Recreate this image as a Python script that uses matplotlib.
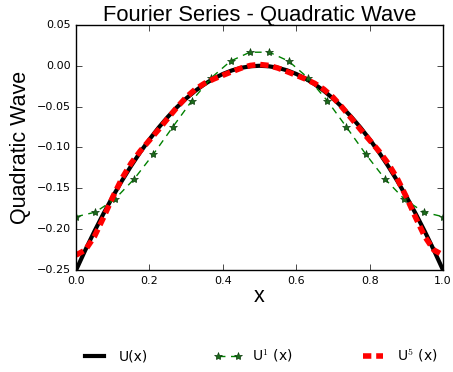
import matplotlib
matplotlib.use("Agg")
import matplotlib.pyplot as plt

plt.style.use("classic")

# dense grid values
x_dense = [0.000, 0.025, 0.050, 0.075, 0.100, 0.125, 0.150, 0.175, 0.200, 0.225,
           0.250, 0.275, 0.300, 0.325, 0.350, 0.375, 0.400, 0.425, 0.450, 0.475,
           0.500, 0.525, 0.550, 0.575, 0.600, 0.625, 0.650, 0.675, 0.700, 0.725,
           0.750, 0.775, 0.800, 0.825, 0.850, 0.875, 0.900, 0.925, 0.950, 0.975, 1.000]
u_exact = [-0.2500, -0.2256, -0.2025, -0.1806, -0.1600, -0.1406, -0.1225, -0.1056, -0.0900, -0.0756,
           -0.0625, -0.0506, -0.0400, -0.0306, -0.0225, -0.0156, -0.0100, -0.0056, -0.0025, -0.0006,
           0.0000, -0.0006, -0.0025, -0.0056, -0.0100, -0.0156, -0.0225, -0.0306, -0.0400, -0.0506,
           -0.0625, -0.0756, -0.0900, -0.1056, -0.1225, -0.1406, -0.1600, -0.1806, -0.2025, -0.2256, -0.2500]
u5 = [-0.2316, -0.2255, -0.2088, -0.1854, -0.1605, -0.1378, -0.1192, -0.1042, -0.0911, -0.0780,
      -0.0643, -0.0508, -0.0385, -0.0287, -0.0215, -0.0162, -0.0116, -0.0071, -0.0028, 0.0004,
      0.0016, 0.0004, -0.0028, -0.0071, -0.0116, -0.0162, -0.0215, -0.0287, -0.0385, -0.0508,
      -0.0643, -0.0780, -0.0911, -0.1042, -0.1192, -0.1378, -0.1605, -0.1854, -0.2088, -0.2255, -0.2316]

# coarse grid with star markers
x_coarse = [0.0000, 0.0526, 0.1053, 0.1579, 0.2105, 0.2632, 0.3158, 0.3684, 0.4211, 0.4737,
            0.5263, 0.5789, 0.6316, 0.6842, 0.7368, 0.7895, 0.8421, 0.8947, 0.9474, 1.0000]
u1 = [-0.1847, -0.1791, -0.1633, -0.1387, -0.1082, -0.0750, -0.0426, -0.0147, 0.0058, 0.0166,
      0.0166, 0.0058, -0.0147, -0.0426, -0.0750, -0.1082, -0.1387, -0.1633, -0.1791, -0.1847]

fig = plt.figure(figsize=(4.53, 3.72), dpi=100, facecolor="white")
ax = fig.add_axes([0.168, 0.274, 0.810, 0.659])

ax.plot(x_dense, u_exact, color="black", lw=3, label="U(x)")
ax.plot(x_coarse, u1, color="green", ls="--", lw=1, dashes=(5, 4), marker="*", ms=6,
        mfc="#1b6b1b", mec="#0c3d0c", label=r"U$^1$ (x)")
ax.plot(x_dense, u5, color="red", ls="--", lw=4, dashes=(6, 3.5), label=r"U$^5$ (x)")

ax.set_xlim(0, 1)
ax.set_ylim(-0.25, 0.05)
ax.set_xticks([0.0, 0.2, 0.4, 0.6, 0.8, 1.0])
ax.set_yticks([-0.25, -0.20, -0.15, -0.10, -0.05, 0.00, 0.05])
ax.tick_params(labelsize=8)

lab = dict(family="Liberation Sans")
ax.set_title("Fourier Series - Quadratic Wave", fontsize=15.8, pad=3, **lab)
ax.set_xlabel("x", fontsize=15.5, labelpad=0, **lab)
ax.set_ylabel("Quadratic Wave", fontsize=15.5, labelpad=4, **lab)

fig.legend(loc="lower center", bbox_to_anchor=(0.572, -0.012), ncol=3, frameon=False,
           fontsize=10, numpoints=2, columnspacing=4.8, handlelength=2.0, handletextpad=0.7)

fig.savefig("out.png", dpi=100, facecolor="white")
